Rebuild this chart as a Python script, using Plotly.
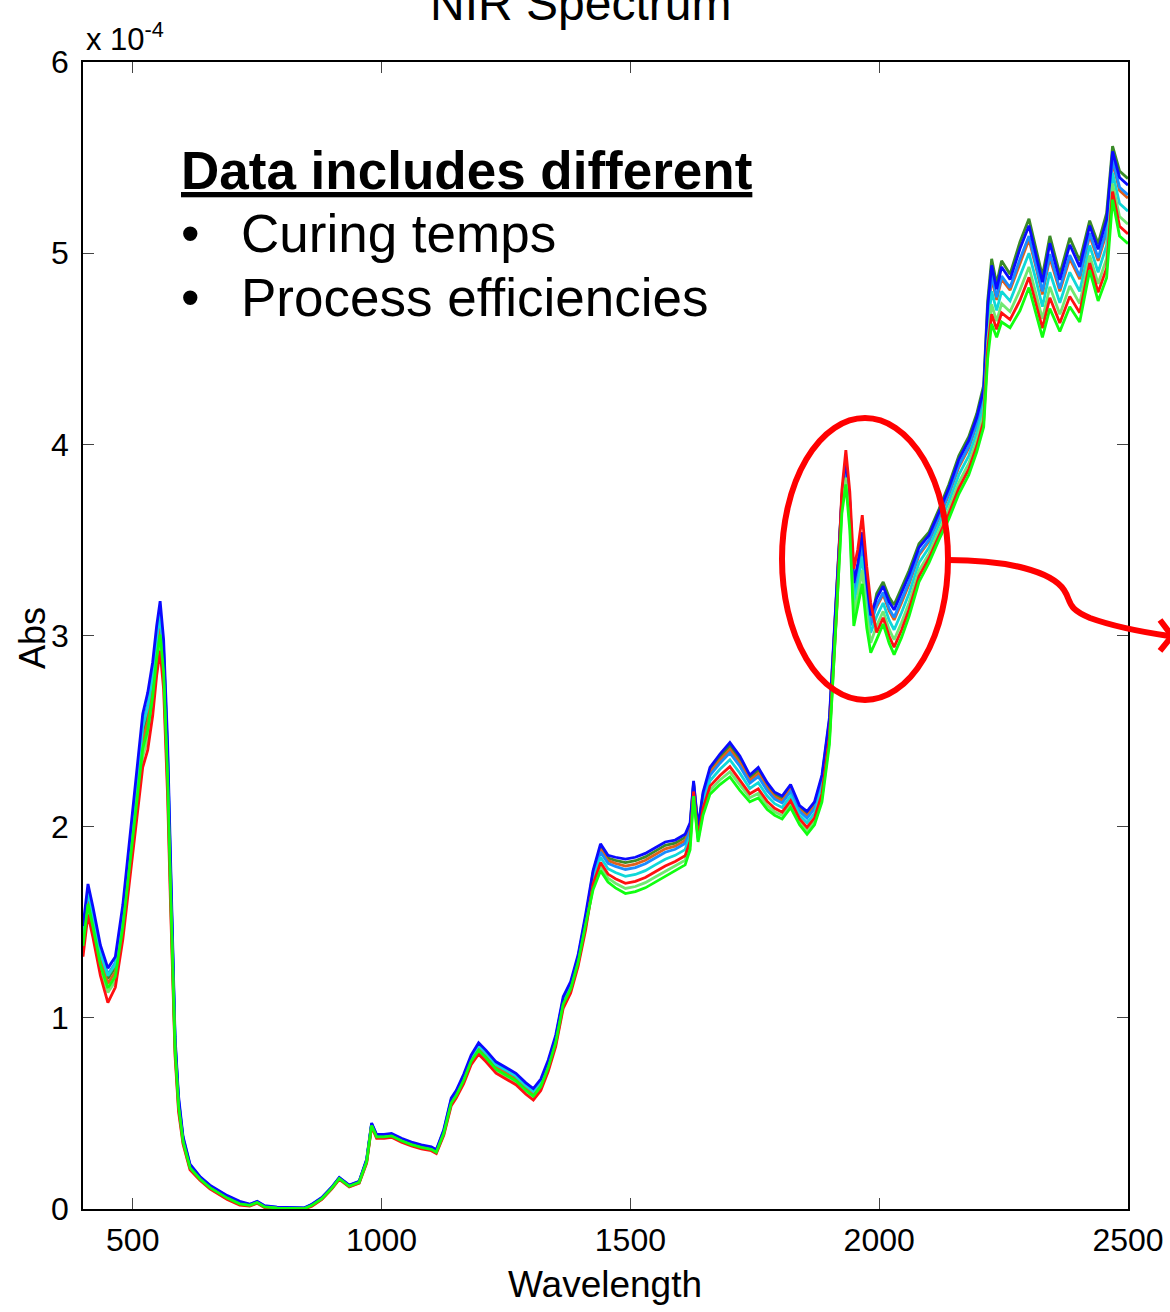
import plotly.graph_objects as go

# Wavelength grid (nm)
wavelength = [
    400, 410, 420, 435, 450, 465, 480, 495, 510, 520, 530, 540, 548, 555, 562, 570, 576, 585, 592, 601,
    615, 635, 655, 690, 715, 735, 750, 765, 790, 820, 845, 860, 880, 900, 915, 935, 955, 970, 980, 990,
    1005, 1020, 1040, 1060, 1080, 1100, 1110, 1125, 1140, 1150, 1165, 1180, 1195, 1210, 1230, 1250, 1270, 1290, 1305, 1320,
    1335, 1350, 1365, 1380, 1395, 1410,
    1425, 1440, 1455, 1470, 1490, 1510, 1530, 1550, 1570, 1590, 1610, 1620, 1627, 1636, 1646, 1660, 1680, 1700, 1720, 1740,
    1757, 1775, 1790, 1805, 1822, 1840, 1855, 1870, 1885, 1900, 1915,
    1925, 1933, 1941, 1949, 1957, 1966, 1975, 1983,
    1995, 2008, 2020, 2030, 2045, 2060, 2080, 2100, 2120, 2140, 2160, 2180, 2196, 2210, 2218, 2226, 2236, 2246, 2263, 2283,
    2301, 2315, 2328, 2343, 2363, 2383, 2403, 2423, 2440, 2457, 2469, 2483, 2500,
]

# Absorbance of each sample spectrum, in units of 1e-4
abs_blue = [
    1.48, 1.70, 1.58, 1.38, 1.26, 1.32, 1.59, 1.95, 2.34, 2.59, 2.70, 2.86, 3.05, 3.18, 2.98, 2.44, 1.82, 0.90, 0.59, 0.38,
    0.235, 0.17, 0.125, 0.07, 0.04, 0.025, 0.04, 0.017, 0.01, 0.008, 0.006, 0.025, 0.06, 0.115, 0.165, 0.125, 0.145, 0.26, 0.45, 0.39,
    0.39, 0.395, 0.37, 0.35, 0.335, 0.325, 0.31, 0.415, 0.58, 0.62, 0.705, 0.805, 0.87, 0.83, 0.77, 0.74, 0.71, 0.66, 0.63, 0.68,
    0.78, 0.91, 1.11, 1.19, 1.33, 1.54,
    1.77, 1.91, 1.85, 1.84, 1.83, 1.84, 1.86, 1.89, 1.92, 1.93, 1.96, 2.02, 2.24, 2.00, 2.18, 2.31, 2.38, 2.44, 2.37, 2.27,
    2.31, 2.23, 2.18, 2.16, 2.22, 2.11, 2.08, 2.13, 2.27, 2.57, 3.24,
    3.73, 3.925, 3.70, 3.275, 3.375, 3.54, 3.28, 3.105,
    3.196, 3.258, 3.176, 3.134, 3.224, 3.316, 3.46, 3.524, 3.644, 3.772, 3.92, 4.02, 4.14, 4.288, 4.72, 4.936, 4.812, 4.928, 4.862, 5.024,
    5.144, 4.996, 4.848, 5.052, 4.86, 5.044, 4.928, 5.144, 5.02, 5.176, 5.532, 5.396, 5.356,
]
abs_deepsky = [
    1.448, 1.668, 1.548, 1.348, 1.228, 1.288, 1.554, 1.91, 2.292, 2.534, 2.64, 2.804, 2.998, 3.112, 2.928, 2.384, 1.772, 0.88, 0.574, 0.372,
    0.229, 0.166, 0.121, 0.066, 0.036, 0.023, 0.038, 0.015, 0.008, 0.006, 0.005, 0.023, 0.058, 0.113, 0.163, 0.123, 0.143, 0.256, 0.446, 0.386,
    0.386, 0.391, 0.366, 0.346, 0.331, 0.321, 0.306, 0.409, 0.572, 0.612, 0.695, 0.795, 0.858, 0.818, 0.758, 0.728, 0.698, 0.648, 0.618, 0.668,
    0.768, 0.898, 1.098, 1.178, 1.318, 1.524,
    1.74, 1.868, 1.808, 1.792, 1.776, 1.786, 1.806, 1.836, 1.866, 1.882, 1.912, 1.978, 2.216, 1.976, 2.144, 2.268, 2.332, 2.386, 2.316, 2.228,
    2.262, 2.188, 2.144, 2.124, 2.184, 2.08, 2.044, 2.094, 2.228, 2.528, 3.204,
    3.706, 3.889, 3.66, 3.215, 3.315, 3.468, 3.216, 3.053,
    3.16, 3.225, 3.14, 3.095, 3.185, 3.28, 3.43, 3.50, 3.62, 3.745, 3.89, 3.99, 4.11, 4.255, 4.675, 4.885, 4.77, 4.88, 4.82, 4.97,
    5.09, 4.945, 4.80, 4.995, 4.815, 4.99, 4.88, 5.105, 4.975, 5.125, 5.49, 5.345, 5.305,
]
abs_olive = [
    1.424, 1.644, 1.524, 1.324, 1.204, 1.264, 1.527, 1.88, 2.256, 2.492, 2.595, 2.762, 2.959, 3.076, 2.889, 2.342, 1.736, 0.865, 0.562, 0.366,
    0.225, 0.163, 0.118, 0.063, 0.033, 0.022, 0.037, 0.014, 0.007, 0.005, 0.004, 0.022, 0.057, 0.112, 0.162, 0.122, 0.142, 0.253, 0.443, 0.383,
    0.383, 0.388, 0.363, 0.343, 0.328, 0.318, 0.303, 0.405, 0.566, 0.606, 0.688, 0.788, 0.849, 0.809, 0.749, 0.719, 0.689, 0.639, 0.609, 0.659,
    0.759, 0.889, 1.089, 1.169, 1.309, 1.512,
    1.76, 1.896, 1.836, 1.824, 1.812, 1.822, 1.842, 1.872, 1.902, 1.914, 1.944, 2.006, 2.232, 1.992, 2.168, 2.296, 2.364, 2.422, 2.352, 2.256,
    2.294, 2.216, 2.168, 2.148, 2.208, 2.10, 2.068, 2.118, 2.256, 2.556, 3.228,
    3.712, 3.898, 3.67, 3.23, 3.33, 3.486, 3.232, 3.066,
    3.22, 3.28, 3.20, 3.16, 3.25, 3.34, 3.48, 3.54, 3.66, 3.79, 3.94, 4.04, 4.16, 4.31, 4.75, 4.97, 4.84, 4.96, 4.89, 5.06,
    5.18, 5.03, 4.88, 5.09, 4.89, 5.08, 4.96, 5.17, 5.05, 5.21, 5.56, 5.43, 5.39,
]
abs_orange = [
    1.40, 1.62, 1.50, 1.30, 1.18, 1.24, 1.50, 1.85, 2.22, 2.45, 2.55, 2.72, 2.92, 3.04, 2.85, 2.30, 1.70, 0.85, 0.55, 0.36,
    0.22, 0.16, 0.115, 0.06, 0.03, 0.02, 0.035, 0.012, 0.006, 0.004, 0.003, 0.02, 0.055, 0.11, 0.16, 0.12, 0.14, 0.25, 0.44, 0.38,
    0.38, 0.385, 0.36, 0.34, 0.325, 0.315, 0.30, 0.40, 0.56, 0.60, 0.68, 0.78, 0.84, 0.80, 0.74, 0.71, 0.68, 0.63, 0.60, 0.65,
    0.75, 0.88, 1.08, 1.16, 1.30, 1.50,
    1.75, 1.882, 1.822, 1.808, 1.794, 1.804, 1.824, 1.854, 1.884, 1.898, 1.928, 1.992, 2.224, 1.984, 2.156, 2.282, 2.348, 2.404, 2.334, 2.242,
    2.278, 2.202, 2.156, 2.136, 2.196, 2.09, 2.056, 2.106, 2.242, 2.542, 3.216,
    3.724, 3.916, 3.69, 3.26, 3.36, 3.522, 3.264, 3.092,
    3.148, 3.214, 3.128, 3.082, 3.172, 3.268, 3.42, 3.492, 3.612, 3.736, 3.88, 3.98, 4.10, 4.244, 4.66, 4.868, 4.756, 4.864, 4.806, 4.952,
    5.072, 4.928, 4.784, 4.976, 4.80, 4.972, 4.864, 5.092, 4.96, 5.108, 5.476, 5.328, 5.288,
]
abs_cyan = [
    1.44, 1.66, 1.54, 1.34, 1.22, 1.28, 1.545, 1.90, 2.28, 2.52, 2.625, 2.79, 2.985, 3.10, 2.915, 2.37, 1.76, 0.875, 0.57, 0.37,
    0.228, 0.165, 0.12, 0.065, 0.035, 0.023, 0.038, 0.015, 0.008, 0.006, 0.005, 0.023, 0.058, 0.113, 0.163, 0.123, 0.143, 0.255, 0.445, 0.385,
    0.385, 0.39, 0.365, 0.345, 0.33, 0.32, 0.305, 0.408, 0.57, 0.61, 0.693, 0.793, 0.855, 0.815, 0.755, 0.725, 0.695, 0.645, 0.615, 0.665,
    0.765, 0.895, 1.095, 1.175, 1.315, 1.52,
    1.72, 1.84, 1.78, 1.76, 1.74, 1.75, 1.77, 1.80, 1.83, 1.85, 1.88, 1.95, 2.20, 1.96, 2.12, 2.24, 2.30, 2.35, 2.28, 2.20,
    2.23, 2.16, 2.12, 2.10, 2.16, 2.06, 2.02, 2.07, 2.20, 2.50, 3.18,
    3.688, 3.862, 3.63, 3.17, 3.27, 3.414, 3.168, 3.014,
    3.10, 3.17, 3.08, 3.03, 3.12, 3.22, 3.38, 3.46, 3.58, 3.70, 3.84, 3.94, 4.06, 4.20, 4.60, 4.80, 4.70, 4.80, 4.75, 4.88,
    5.00, 4.86, 4.72, 4.90, 4.74, 4.90, 4.80, 5.04, 4.90, 5.04, 5.42, 5.26, 5.22,
]
abs_lightgreen = [
    1.352, 1.572, 1.452, 1.252, 1.132, 1.192, 1.446, 1.79, 2.148, 2.366, 2.46, 2.636, 2.842, 2.968, 2.772, 2.216, 1.628, 0.82, 0.526, 0.348,
    0.211, 0.154, 0.109, 0.054, 0.024, 0.017, 0.032, 0.009, 0.004, 0.002, 0.001, 0.017, 0.052, 0.107, 0.157, 0.117, 0.137, 0.244, 0.434, 0.374,
    0.374, 0.379, 0.354, 0.334, 0.319, 0.309, 0.294, 0.391, 0.548, 0.588, 0.665, 0.765, 0.822, 0.782, 0.722, 0.692, 0.662, 0.612, 0.582, 0.632,
    0.732, 0.862, 1.062, 1.142, 1.282, 1.476,
    1.685, 1.791, 1.731, 1.704, 1.677, 1.687, 1.707, 1.737, 1.767, 1.794, 1.824, 1.901, 2.172, 1.932, 2.078, 2.191, 2.244, 2.287, 2.217, 2.151,
    2.174, 2.111, 2.078, 2.058, 2.118, 2.025, 1.978, 2.028, 2.151, 2.451, 3.138,
    3.664, 3.826, 3.59, 3.11, 3.21, 3.342, 3.104, 2.962,
    3.052, 3.126, 3.032, 2.978, 3.068, 3.172, 3.34, 3.428, 3.548, 3.664, 3.80, 3.90, 4.02, 4.156, 4.54, 4.732, 4.644, 4.736, 4.694, 4.808,
    4.928, 4.792, 4.656, 4.824, 4.68, 4.828, 4.736, 4.988, 4.84, 4.972, 5.364, 5.192, 5.152,
]
abs_red = [
    1.32, 1.54, 1.42, 1.22, 1.08, 1.16, 1.41, 1.75, 2.10, 2.31, 2.40, 2.58, 2.79, 2.92, 2.72, 2.16, 1.58, 0.80, 0.51, 0.34,
    0.205, 0.15, 0.105, 0.05, 0.02, 0.015, 0.03, 0.007, 0.002, 0.0, 0.0, 0.015, 0.05, 0.105, 0.155, 0.115, 0.135, 0.24, 0.43, 0.37,
    0.37, 0.375, 0.35, 0.33, 0.315, 0.305, 0.29, 0.385, 0.54, 0.58, 0.655, 0.755, 0.81, 0.77, 0.71, 0.68, 0.65, 0.60, 0.57, 0.62,
    0.72, 0.85, 1.05, 1.13, 1.27, 1.46,
    1.70, 1.812, 1.752, 1.728, 1.704, 1.714, 1.734, 1.764, 1.794, 1.818, 1.848, 1.922, 2.184, 1.944, 2.096, 2.212, 2.268, 2.314, 2.244, 2.172,
    2.198, 2.132, 2.096, 2.076, 2.136, 2.04, 1.996, 2.046, 2.172, 2.472, 3.156,
    3.76, 3.97, 3.75, 3.35, 3.45, 3.63, 3.36, 3.17,
    3.016, 3.093, 2.996, 2.939, 3.029, 3.136, 3.31, 3.404, 3.524, 3.637, 3.77, 3.87, 3.99, 4.123, 4.495, 4.681, 4.602, 4.688, 4.652, 4.754,
    4.874, 4.741, 4.608, 4.767, 4.635, 4.774, 4.688, 4.949, 4.795, 4.921, 5.322, 5.141, 5.101,
]
abs_lime = [
    1.376, 1.596, 1.476, 1.276, 1.156, 1.216, 1.473, 1.82, 2.184, 2.408, 2.505, 2.678, 2.881, 3.004, 2.811, 2.258, 1.664, 0.835, 0.538, 0.354,
    0.216, 0.157, 0.112, 0.057, 0.027, 0.019, 0.034, 0.011, 0.005, 0.003, 0.002, 0.019, 0.054, 0.109, 0.159, 0.119, 0.139, 0.247, 0.437, 0.377,
    0.377, 0.382, 0.357, 0.337, 0.322, 0.312, 0.297, 0.396, 0.554, 0.594, 0.673, 0.773, 0.831, 0.791, 0.731, 0.701, 0.671, 0.621, 0.591, 0.641,
    0.741, 0.871, 1.071, 1.151, 1.291, 1.488,
    1.67, 1.77, 1.71, 1.68, 1.65, 1.66, 1.68, 1.71, 1.74, 1.77, 1.80, 1.88, 2.16, 1.92, 2.06, 2.17, 2.22, 2.26, 2.19, 2.13,
    2.15, 2.09, 2.06, 2.04, 2.10, 2.01, 1.96, 2.01, 2.13, 2.43, 3.12,
    3.64, 3.79, 3.55, 3.05, 3.15, 3.27, 3.04, 2.91,
    2.98, 3.06, 2.96, 2.90, 2.99, 3.10, 3.28, 3.38, 3.50, 3.61, 3.74, 3.84, 3.96, 4.09, 4.45, 4.63, 4.56, 4.64, 4.61, 4.70,
    4.82, 4.69, 4.56, 4.71, 4.59, 4.72, 4.64, 4.91, 4.75, 4.87, 5.28, 5.09, 5.05,
]

x_ticks = [500, 1000, 1500, 2000, 2500]
y_ticks = [0, 1, 2, 3, 4, 5, 6]

spectra = [
    (abs_olive, "#3a8a28"),
    (abs_orange, "#e0601c"),
    (abs_deepsky, "#1a8cff"),
    (abs_cyan, "#10d8d8"),
    (abs_blue, "#0a0aff"),
    (abs_lightgreen, "#70e870"),
    (abs_red, "#ff1010"),
    (abs_lime, "#10ff10"),
]

for vals, _ in spectra:
    assert len(vals) == len(wavelength), len(vals)

W, H = 1170, 1312
ML, MR, MT, MB = 83, 42, 62, 103
PW, PH = W - ML - MR, H - MT - MB


def px(x):
    return (x - ML) / PW


def py(y):
    return (H - MB - y) / PH


SANS = "Liberation Sans, Arial, Helvetica, sans-serif"

fig = go.Figure()
for vals, col in spectra:
    fig.add_trace(go.Scatter(
        x=wavelength, y=vals, mode="lines",
        line=dict(color=col, width=2.8),
        hoverinfo="skip", showlegend=False,
    ))

axis_common = dict(
    showgrid=False, zeroline=False, automargin=False,
    showline=True, linecolor="black", linewidth=1.5, mirror="ticks",
    ticks="inside", ticklen=11, tickwidth=1, tickcolor="#444",
    tickfont=dict(family=SANS, size=32, color="black"),
    ticklabeloverflow="allow",
)

fig.update_layout(
    width=W, height=H,
    margin=dict(l=ML, r=MR, t=MT, b=MB, pad=0, autoexpand=False),
    paper_bgcolor="white", plot_bgcolor="white",
    xaxis=dict(range=[400, 2500], tickvals=x_ticks, ticktext=[str(v) for v in x_ticks],
               ticklabelstandoff=2, **axis_common),
    yaxis=dict(range=[0, 6], tickvals=y_ticks, ticktext=[str(v) for v in y_ticks],
               ticklabelstandoff=6, **axis_common),
)

ann = []
# title, partly above the page edge
ann.append(dict(text="NIR Spectrum", x=px(580), y=py(3), xref="paper", yref="paper",
                xanchor="center", yanchor="middle", showarrow=False,
                font=dict(family=SANS, size=48, color="black")))
# exponent of the y axis
ann.append(dict(text="x 10<sup>-4</sup>", x=px(84), y=py(37), xref="paper", yref="paper",
                xanchor="left", yanchor="middle", showarrow=False,
                font=dict(family=SANS, size=31, color="black")))
ann.append(dict(text="Wavelength", x=px(605), y=py(1284), xref="paper", yref="paper",
                xanchor="center", yanchor="middle", showarrow=False,
                font=dict(family=SANS, size=37, color="black")))
ann.append(dict(text="Abs", x=px(32), y=py(638), xref="paper", yref="paper",
                xanchor="center", yanchor="middle", showarrow=False, textangle=-90,
                font=dict(family=SANS, size=36, color="black")))
# text box
ann.append(dict(text="<b><u>Data includes different</u></b>", x=px(179), y=py(170),
                xref="paper", yref="paper", xanchor="left", yanchor="middle", showarrow=False,
                font=dict(family=SANS, size=53, color="black")))
for label, yc in [("Curing temps", 234), ("Process efficiencies", 298)]:
    ann.append(dict(text="•", x=px(190), y=py(yc), xref="paper", yref="paper",
                    xanchor="center", yanchor="middle", showarrow=False,
                    font=dict(family=SANS, size=53, color="black")))
    ann.append(dict(text=label, x=px(239), y=py(yc), xref="paper", yref="paper",
                    xanchor="left", yanchor="middle", showarrow=False,
                    font=dict(family=SANS, size=53, color="black")))
fig.update_layout(annotations=ann)


def path_of(points):
    parts = []
    for cmd, pts in points:
        coords = " ".join(f"{px(a):.5f},{py(b):.5f}" for a, b in pts)
        parts.append(f"{cmd} {coords}")
    return " ".join(parts)


shapes = [
    dict(type="circle", xref="paper", yref="paper",
         x0=px(782), x1=px(948), y0=py(700), y1=py(418),
         line=dict(color="#ff0000", width=6)),
    dict(type="path", xref="paper", yref="paper",
         path=path_of([("M", [(948, 560)]),
                       ("C", [(1010, 560), (1052, 572), (1064, 590)]),
                       ("C", [(1072, 602), (1066, 608), (1090, 618)]),
                       ("C", [(1115, 627), (1140, 632), (1176, 637)])]),
         line=dict(color="#ff0000", width=6)),
    dict(type="path", xref="paper", yref="paper",
         path=path_of([("M", [(1160, 620)]), ("L", [(1172, 636)]), ("L", [(1160, 651)])]),
         line=dict(color="#ff0000", width=6)),
]
fig.update_layout(shapes=shapes)

fig.write_html("out.html")
